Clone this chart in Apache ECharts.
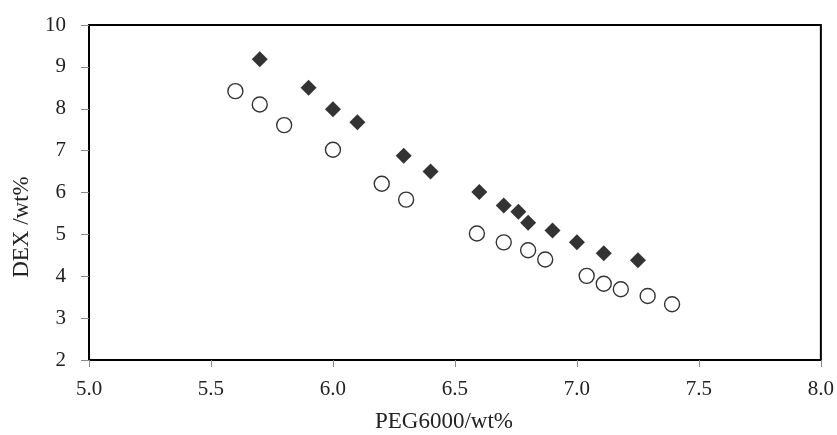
<!DOCTYPE html>
<html>
<head>
<meta charset="utf-8">
<script src="https://cdn.jsdelivr.net/npm/echarts@6/dist/echarts.min.js"></script>
<style>html,body{margin:0;padding:0;background:#fff;}#c{width:837px;height:435px;}</style>
</head>
<body>
<div id="c"></div>
<script>
// Filled diamonds
const diamondPEG = [5.70, 5.90, 6.00, 6.10, 6.29, 6.40, 6.60, 6.70, 6.76, 6.80, 6.90, 7.00, 7.11, 7.25];
const diamondDEX = [9.18, 8.50, 7.99, 7.68, 6.88, 6.50, 6.01, 5.69, 5.54, 5.28, 5.09, 4.81, 4.55, 4.38];
// Open circles
const circlePEG = [5.60, 5.70, 5.80, 6.00, 6.20, 6.30, 6.59, 6.70, 6.80, 6.87, 7.04, 7.11, 7.18, 7.29, 7.39];
const circleDEX = [8.42, 8.10, 7.61, 7.02, 6.21, 5.83, 5.02, 4.81, 4.62, 4.40, 4.01, 3.82, 3.69, 3.53, 3.33];
const xTitle = 'PEG6000/wt%';
const yTitle = 'DEX /wt%';

const font = '"Liberation Serif", "Times New Roman", serif';
const chart = echarts.init(document.getElementById('c'), null, {renderer: 'canvas'});
chart.setOption({
  animation: false,
  backgroundColor: '#fff',
  grid: {left: 89, right: 16, top: 25, bottom: 75, show: true, borderColor: '#000', borderWidth: 2, backgroundColor: 'transparent'},
  xAxis: {
    type: 'value', min: 5.0, max: 8.0, interval: 0.5,
    axisLine: {show: true, onZero: false, lineStyle: {color: '#000', width: 2}},
    axisTick: {show: true, inside: false, length: 7, lineStyle: {color: '#888', width: 1}},
    axisLabel: {margin: 19, fontFamily: font, fontSize: 21, color: '#222', formatter: v => v.toFixed(1)},
    splitLine: {show: false}
  },
  yAxis: {
    type: 'value', min: 2, max: 10, interval: 1,
    axisLine: {show: true, onZero: false, lineStyle: {color: '#000', width: 2}},
    axisTick: {show: true, inside: false, length: 8, lineStyle: {color: '#888', width: 1}},
    axisLabel: {margin: 23, fontFamily: font, fontSize: 21, color: '#222'},
    splitLine: {show: false}
  },
  graphic: [{
    type: 'text', x: 22, y: 227, rotation: Math.PI / 2,
    style: {text: yTitle, font: '23px ' + font, fill: '#222', textAlign: 'center', textVerticalAlign: 'middle'}
  }, {
    type: 'text', x: 444, y: 422,
    style: {text: xTitle, font: '23px ' + font, fill: '#222', textAlign: 'center', textVerticalAlign: 'middle'}
  }],
  series: [
    {
      type: 'scatter', symbol: 'diamond', symbolSize: 16,
      itemStyle: {color: '#000'},
      data: diamondPEG.map((x, i) => [x, diamondDEX[i]])
    },
    {
      type: 'scatter', symbol: 'circle', symbolSize: 15,
      itemStyle: {color: '#fff', borderColor: '#000', borderWidth: 1.4},
      data: circlePEG.map((x, i) => [x, circleDEX[i]])
    }
  ]
});
</script>
</body>
</html>
